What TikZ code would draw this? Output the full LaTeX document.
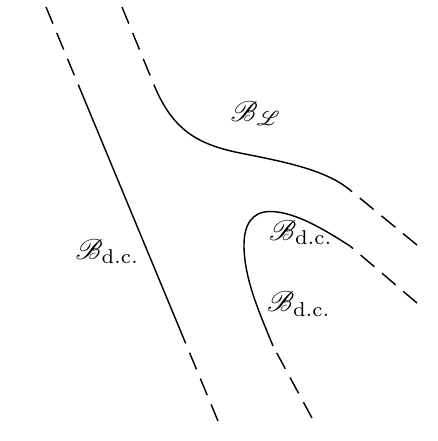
\documentclass[tikz,border=0pt]{standalone}
\usepackage{mathrsfs}
\begin{document}
\begin{tikzpicture}[x=0.35pt,y=-0.35pt,
  curve/.style={line width=0.5pt},
  dashpart/.style={line width=0.5pt,dash pattern=on 6.3pt off 3.5pt},
  lbl/.style={inner sep=0pt}]
\useasboundingbox (0,0) rectangle (438,441);
% left line
\coordinate (l0) at (46,7);
\coordinate (l1) at (78.4,85);
\coordinate (l2) at (184.3,340);
\coordinate (l3) at (218,421);
\draw[dashpart] (l0) -- (l1);
\draw[curve] (l1) -- (l2);
\draw[dashpart] (l3) -- (l2);
% outer curve
\coordinate (o0) at (122,7);
\coordinate (o1) at (154,85);
\coordinate (o2) at (240,153);
\coordinate (o3) at (350,190);
\coordinate (o4) at (417,245);
\draw[dashpart] (o0) -- (o1);
\draw[curve] (o1) .. controls (172,128) and (195,144) .. (o2)
  .. controls (280,161) and (325,169) .. (o3);
\draw[dashpart] (o4) -- (o3);
% inner curve
\coordinate (i0) at (312,418);
\coordinate (i1) at (273,346);
\coordinate (i2) at (244,245);
\coordinate (i3) at (270,211.5);
\coordinate (i4) at (350,246);
\coordinate (i5) at (417,303);
\draw[dashpart] (i0) -- (i1);
\draw[curve] (i1) .. controls (261,316) and (244,280) .. (i2)
  .. controls (244,225) and (252,211.5) .. (i3)
  .. controls (295,211.5) and (325,230) .. (i4);
\draw[dashpart] (i5) -- (i4);
% labels
\node[lbl] (bl) at (256,113.5) {$\mathscr{B}_{\mathscr{L}}$};
\node[lbl] (bdc1) at (107.5,251.5) {$\mathscr{B}_{\mathrm{d.c.}}$};
\node[lbl] (bdc2) at (301,232.5) {$\mathscr{B}_{\mathrm{d.c.}}$};
\node[lbl] (bdc3) at (299,304) {$\mathscr{B}_{\mathrm{d.c.}}$};
\end{tikzpicture}
\end{document}
